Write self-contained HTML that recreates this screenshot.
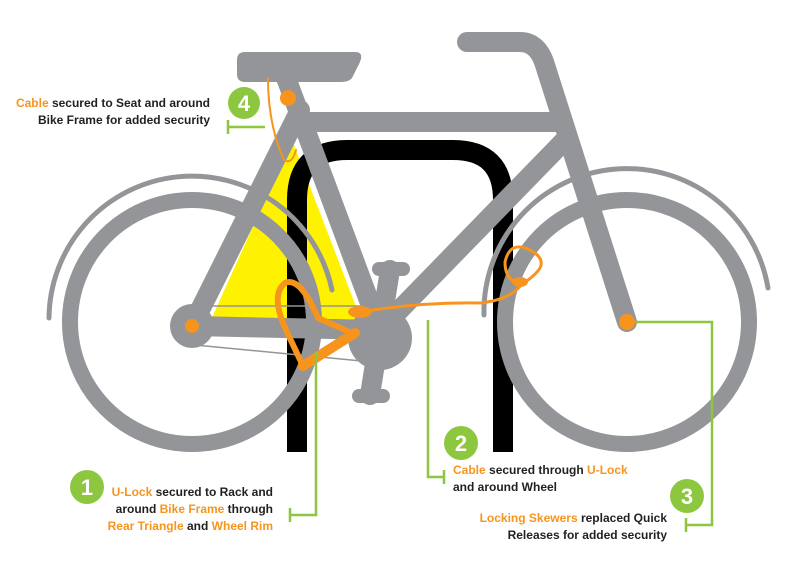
<!DOCTYPE html>
<html><head><meta charset="utf-8"><style>
html,body{margin:0;padding:0;background:#fff;}
svg{display:block}
text{font-family:"Liberation Sans",sans-serif;font-weight:bold;font-size:12px;fill:#231f20}
.o{fill:#f7941d}
.n{font-size:22px;fill:#fff}
</style></head><body>
<svg width="800" height="569" viewBox="0 0 800 569" xmlns="http://www.w3.org/2000/svg">
<!-- yellow triangle -->
<polygon points="210,322 292,140 362,322" fill="#fff200"/>
<!-- rack -->
<path d="M297,452 V200 Q297,150 347,150 H453 Q503,150 503,200 V452" fill="none" stroke="#000" stroke-width="20"/>
<!-- chain -->
<line x1="195" y1="345" x2="372" y2="362" stroke="#939598" stroke-width="1.5"/>
<line x1="212" y1="306" x2="360" y2="306" stroke="#939598" stroke-width="1.5"/>
<!-- wheels -->
<circle cx="192" cy="322" r="122" fill="none" stroke="#939598" stroke-width="16"/>
<circle cx="627" cy="322" r="122" fill="none" stroke="#939598" stroke-width="16"/>
<!-- fenders -->
<path d="M49,318 A143,143 0 0 1 332,290" fill="none" stroke="#939598" stroke-width="5" stroke-linecap="round"/>
<path d="M484,315 A143,143 0 0 1 768,288" fill="none" stroke="#939598" stroke-width="5" stroke-linecap="round"/>
<!-- frame -->
<g stroke="#939598" stroke-width="20" stroke-linecap="round" fill="none">
<line x1="192" y1="326" x2="380" y2="330"/>
<line x1="192" y1="326" x2="300" y2="110"/>
<line x1="285" y1="75" x2="380" y2="330"/>
<line x1="300" y1="122" x2="560" y2="122"/>
<line x1="380" y1="330" x2="565" y2="140"/>
<path d="M467,42 H520 Q538,42 545,65 L627,322"/>
<line x1="390" y1="270" x2="370" y2="395"/>
</g>
<circle cx="192" cy="326" r="22" fill="#939598"/>
<circle cx="380" cy="338" r="32" fill="#939598"/>
<rect x="372" y="262" width="38" height="14" rx="7" fill="#939598"/>
<rect x="352" y="389" width="38" height="14" rx="7" fill="#939598"/>
<path d="M245,52 H355 Q364,52 360,62 L352,78 Q349,82 340,82 H245 Q237,82 237,74 V60 Q237,52 245,52 Z" fill="#939598"/>
<!-- orange cable / lock -->
<g fill="none" stroke="#f7941d" stroke-linecap="round" stroke-linejoin="round">
<path d="M268,78 Q268,125 284,160 Q292,165 296,150" stroke-width="2"/>
<path d="M360,312 Q420,302 480,303 Q510,300 522,284 Q535,276 540,268 Q545,258 530,250 Q510,240 505,262 Q505,282 522,283" stroke-width="3"/>
<path d="M303,366 L286,330 Q270,295 285,283 Q300,276 318,318 L352,333" stroke-width="6"/>
<path d="M303,366 L355,333" stroke-width="10"/>
</g>
<ellipse cx="360" cy="312" rx="12" ry="6" fill="#f7941d"/>
<ellipse cx="520" cy="282" rx="8" ry="5" fill="#f7941d"/>
<circle cx="192" cy="326" r="7" fill="#f7941d"/>
<circle cx="627" cy="322" r="8" fill="#f7941d"/>
<circle cx="288" cy="98" r="8" fill="#f7941d"/>
<!-- green connectors -->
<g stroke="#8dc63f" stroke-width="2.5" fill="none">
<path d="M265,127 H228 M228,120 V134"/>
<path d="M316,352 V515 H290 M290,508 V522"/>
<path d="M428,320 V477 H444 M444,470 V484"/>
<path d="M635,322 H712 V525 H686 M686,518 V532"/>
</g>
<circle cx="244" cy="103" r="16" fill="#8dc63f"/><text class="n" x="244" y="111" text-anchor="middle">4</text>
<circle cx="87" cy="487" r="17" fill="#8dc63f"/><text class="n" x="87" y="495" text-anchor="middle">1</text>
<circle cx="461" cy="443" r="17" fill="#8dc63f"/><text class="n" x="461" y="451" text-anchor="middle">2</text>
<circle cx="687" cy="496" r="17" fill="#8dc63f"/><text class="n" x="687" y="504" text-anchor="middle">3</text>
<!-- labels -->
<text x="210" y="107" text-anchor="end"><tspan class="o">Cable</tspan> secured to Seat and around</text>
<text x="210" y="124" text-anchor="end">Bike Frame for added security</text>
<text x="273" y="496" text-anchor="end"><tspan class="o">U-Lock</tspan> secured to Rack and</text>
<text x="273" y="513" text-anchor="end">around <tspan class="o">Bike Frame</tspan> through</text>
<text x="273" y="530" text-anchor="end"><tspan class="o">Rear Triangle</tspan> and <tspan class="o">Wheel Rim</tspan></text>
<text x="453" y="474"><tspan class="o">Cable</tspan> secured through <tspan class="o">U-Lock</tspan></text>
<text x="453" y="491">and around Wheel</text>
<text x="667" y="522" text-anchor="end"><tspan class="o">Locking Skewers</tspan> replaced Quick</text>
<text x="667" y="539" text-anchor="end">Releases for added security</text>
</svg>
</body></html>
